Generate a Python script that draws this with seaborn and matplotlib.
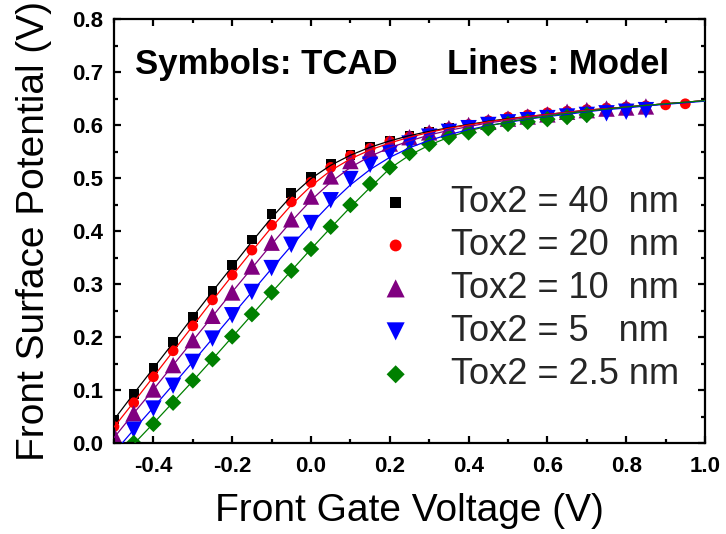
import matplotlib
matplotlib.use("Agg")
import matplotlib.pyplot as plt
import seaborn as sns
from matplotlib.ticker import MultipleLocator, FormatStrFormatter

# ---------------- data ----------------
VG = [-0.50, -0.45, -0.40, -0.35, -0.30, -0.25, -0.20, -0.15, -0.10, -0.05,
      0.00, 0.05, 0.10, 0.15, 0.20, 0.25, 0.30, 0.35, 0.40, 0.45,
      0.50, 0.55, 0.60, 0.65, 0.70, 0.75, 0.80, 0.85, 0.90, 0.95, 1.00]

labels = ["Tox2 = 40  nm", "Tox2 = 20  nm", "Tox2 = 10  nm",
          "Tox2 = 5   nm", "Tox2 = 2.5 nm"]
colors = ["#000000", "#FF0000", "#800080", "#0000FF", "#008000"]
markers = ["s", "o", "^", "v", "D"]
msize = [48, 60, 140, 140, 70]

# TCAD symbols
tcad_vg_40 = VG[0:19]
tcad_40 = [0.044, 0.093, 0.141, 0.190, 0.238, 0.287, 0.336, 0.384, 0.432, 0.472,
           0.502, 0.526, 0.543, 0.559, 0.570, 0.579, 0.587, 0.594, 0.600]
tcad_vg_20 = VG[0:30]
tcad_20 = [0.031, 0.076, 0.125, 0.174, 0.221, 0.270, 0.317, 0.364, 0.411, 0.455,
           0.492, 0.520, 0.542, 0.556, 0.569, 0.578, 0.587, 0.595, 0.601, 0.608,
           0.615, 0.619, 0.623, 0.626, 0.629, 0.632, 0.634, 0.636, 0.638, 0.640]
tcad_vg_10 = VG[0:28]
tcad_10 = [0.015, 0.056, 0.101, 0.147, 0.194, 0.240, 0.284, 0.333, 0.378, 0.422,
           0.465, 0.503, 0.532, 0.551, 0.565, 0.577, 0.586, 0.594, 0.600, 0.606,
           0.612, 0.616, 0.620, 0.625, 0.628, 0.631, 0.633, 0.635]
tcad_vg_5 = VG[1:28]
tcad_5 = [0.025, 0.065, 0.108, 0.153, 0.197, 0.241, 0.285, 0.330, 0.374, 0.415,
          0.458, 0.498, 0.525, 0.547, 0.565, 0.578, 0.587, 0.594, 0.600, 0.605,
          0.609, 0.613, 0.616, 0.619, 0.622, 0.625, 0.628]
tcad_vg_25 = VG[1:25]
tcad_25 = [0.000, 0.036, 0.076, 0.118, 0.158, 0.201, 0.243, 0.284, 0.325, 0.366,
           0.408, 0.449, 0.489, 0.520, 0.547, 0.564, 0.577, 0.586, 0.594, 0.602,
           0.606, 0.611, 0.615, 0.619]

# Model lines
model_40 = [0.044, 0.093, 0.141, 0.189, 0.238, 0.286, 0.333, 0.380, 0.425, 0.466,
            0.499, 0.524, 0.543, 0.558, 0.570, 0.580, 0.588, 0.595, 0.601, 0.607,
            0.612, 0.616, 0.620, 0.624, 0.628, 0.631, 0.634, 0.637, 0.640, 0.643, 0.646]
model_20 = [0.030, 0.077, 0.125, 0.173, 0.221, 0.269, 0.316, 0.362, 0.407, 0.449,
            0.485, 0.514, 0.536, 0.553, 0.566, 0.577, 0.586, 0.594, 0.600, 0.606,
            0.611, 0.616, 0.620, 0.624, 0.628, 0.631, 0.634, 0.637, 0.640, 0.643, 0.646]
model_10 = [0.010, 0.056, 0.101, 0.147, 0.193, 0.239, 0.285, 0.330, 0.375, 0.418,
            0.458, 0.492, 0.520, 0.541, 0.557, 0.570, 0.581, 0.590, 0.597, 0.604,
            0.609, 0.614, 0.619, 0.623, 0.627, 0.630, 0.634, 0.637, 0.640, 0.643, 0.646]
model_5 = [-0.018, 0.025, 0.067, 0.110, 0.153, 0.197, 0.241, 0.285, 0.329, 0.372,
           0.413, 0.452, 0.487, 0.516, 0.539, 0.557, 0.571, 0.582, 0.591, 0.599,
           0.605, 0.611, 0.616, 0.620, 0.625, 0.629, 0.632, 0.636, 0.639, 0.642, 0.645]
model_25 = [-0.040, -0.002, 0.037, 0.077, 0.117, 0.158, 0.200, 0.242, 0.284, 0.325,
            0.366, 0.406, 0.445, 0.482, 0.518, 0.543, 0.562, 0.577, 0.589, 0.598,
            0.606, 0.612, 0.617, 0.622, 0.626, 0.630, 0.634, 0.637, 0.640, 0.643, 0.646]

tcad_x = [tcad_vg_40, tcad_vg_20, tcad_vg_10, tcad_vg_5, tcad_vg_25]
tcad_y = [tcad_40, tcad_20, tcad_10, tcad_5, tcad_25]
model_y = [model_40, model_20, model_10, model_5, model_25]

# ---------------- style ----------------
sns.set_theme(style="ticks")
plt.rcParams["font.family"] = ["Liberation Sans", "DejaVu Sans"]
plt.rcParams["axes.linewidth"] = 1.6

W, H = 726, 534
fig = plt.figure(figsize=(W / 100, H / 100), dpi=100)
fig.patch.set_facecolor("white")
ax = fig.add_axes([114 / W, (H - 443) / H, (705 - 114) / W, (443 - 19) / H])
ax.set_facecolor("white")

for xs, ys, c, m, s, lab in zip(tcad_x, tcad_y, colors, markers, msize, labels):
    sns.scatterplot(x=xs, y=ys, marker=m, s=s, color=c, edgecolor="none",
                    linewidth=0, ax=ax, label=lab, zorder=2)
for ym, c in zip(model_y, colors):
    sns.lineplot(x=VG, y=ym, color=c, lw=0.9, ax=ax, legend=False,
                 sort=False, estimator=None, zorder=3)

ax.set_xlim(-0.5, 1.0)
ax.set_ylim(0.0, 0.8)
ax.xaxis.set_major_locator(MultipleLocator(0.2))
ax.xaxis.set_minor_locator(MultipleLocator(0.1))
ax.yaxis.set_major_locator(MultipleLocator(0.1))
ax.yaxis.set_minor_locator(MultipleLocator(0.05))
ax.xaxis.set_major_formatter(FormatStrFormatter("%.1f"))
ax.yaxis.set_major_formatter(FormatStrFormatter("%.1f"))
ax.set_xticks([-0.4, -0.2, 0.0, 0.2, 0.4, 0.6, 0.8, 1.0])

ax.tick_params(which="both", direction="in", top=True, right=True,
               width=1.6, colors="black")
ax.tick_params(which="major", length=5)
ax.tick_params(which="minor", length=3)
ax.tick_params(axis="x", which="major", pad=9)
ax.tick_params(axis="y", which="major", pad=7.5)
for lab in ax.get_xticklabels() + ax.get_yticklabels():
    lab.set_fontsize(16)
    lab.set_fontweight("bold")
for sp in ax.spines.values():
    sp.set_color("black")
    sp.set_linewidth(1.6)

ax.set_xlabel("Front Gate Voltage (V)", fontsize=28, labelpad=12, color="black")
ax.set_ylabel("Front Surface Potential (V)", fontsize=28, labelpad=15, color="black")

fig.text(135 / W, 1 - 74 / H, "Symbols: TCAD", fontsize=25, fontweight="bold",
         ha="left", va="baseline", color="black")
fig.text(447 / W, 1 - 74 / H, "Lines : Model", fontsize=25, fontweight="bold",
         ha="left", va="baseline", color="black")

handles, labs = ax.get_legend_handles_labels()
ax.legend(handles=handles, labels=labs, loc="upper left",
          bbox_to_anchor=(377.6 / W, 1 - 185 / H), bbox_transform=fig.transFigure,
          frameon=False, borderpad=0, borderaxespad=0, handlelength=1.0,
          handletextpad=1.03, labelspacing=0.22, fontsize=26, markerscale=1.1)

fig.savefig("out.png", dpi=100, facecolor="white")
